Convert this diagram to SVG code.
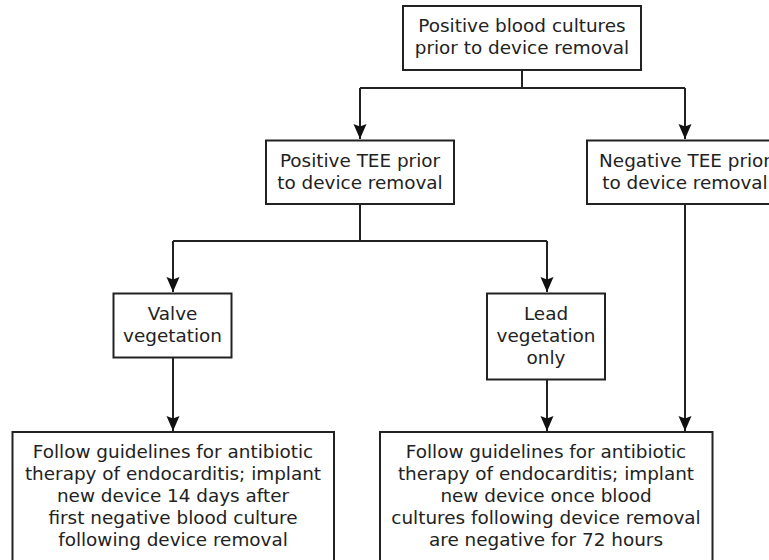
<svg xmlns="http://www.w3.org/2000/svg" width="769" height="560" viewBox="0 0 769 560">
<style>
.box{fill:#fff;stroke:#222;stroke-width:2}
.t{font-family:"DejaVu Sans",Verdana,sans-serif;font-size:18.4px;fill:#222;text-anchor:middle}
.c{fill:none;stroke:#222;stroke-width:2}
</style>
<defs>
<marker id="ah" markerUnits="userSpaceOnUse" markerWidth="18" markerHeight="16" viewBox="-16 -8 18 16" refX="0" refY="0" orient="auto">
<path d="M0,0 L-15,-6.5 L-12.5,0 L-15,6.5 Z" fill="#111"/>
</marker>
</defs>
<rect width="769" height="560" fill="#fff"/>
<g id="connectors">
<path class="c" d="M522,70 V88"/>
<path class="c" d="M360,88 H685"/>
<path class="c" d="M360,88 V139" marker-end="url(#ah)"/>
<path class="c" d="M685,88 V139" marker-end="url(#ah)"/>
<path class="c" d="M360,204 V241"/>
<path class="c" d="M173,241 H547"/>
<path class="c" d="M173,241 V292" marker-end="url(#ah)"/>
<path class="c" d="M547,241 V292" marker-end="url(#ah)"/>
<path class="c" d="M173,358 V431" marker-end="url(#ah)"/>
<path class="c" d="M547,379 V431" marker-end="url(#ah)"/>
<path class="c" d="M685,204 V431" marker-end="url(#ah)"/>
</g>
<g id="n1">
<rect class="box" x="403" y="6" width="238" height="64"/>
<text class="t" x="522" y="32">Positive blood cultures</text>
<text class="t" x="522" y="54">prior to device removal</text>
</g>
<g id="n2">
<rect class="box" x="266" y="140.5" width="188" height="63.5"/>
<text class="t" x="360" y="166.5">Positive TEE prior</text>
<text class="t" x="360" y="188.5">to device removal</text>
</g>
<g id="n3">
<rect class="box" x="587" y="140.5" width="196" height="63.5"/>
<text class="t" x="685" y="166.5">Negative TEE prior</text>
<text class="t" x="685" y="188.5">to device removal</text>
</g>
<g id="n4">
<rect class="box" x="113.5" y="293.5" width="118" height="64"/>
<text class="t" x="172.5" y="319.5">Valve</text>
<text class="t" x="172.5" y="341.5">vegetation</text>
</g>
<g id="n5">
<rect class="box" x="487" y="293.5" width="118" height="86"/>
<text class="t" x="546" y="319.5">Lead</text>
<text class="t" x="546" y="341.5">vegetation</text>
<text class="t" x="546" y="363.5">only</text>
</g>
<g id="n6">
<rect class="box" x="12.5" y="432" width="321.5" height="140"/>
<text class="t" x="173" y="458">Follow guidelines for antibiotic</text>
<text class="t" x="173" y="480">therapy of endocarditis; implant</text>
<text class="t" x="173" y="502">new device 14 days after</text>
<text class="t" x="173" y="524">first negative blood culture</text>
<text class="t" x="173" y="546">following device removal</text>
</g>
<g id="n7">
<rect class="box" x="380" y="432" width="332.5" height="140"/>
<text class="t" x="546" y="458">Follow guidelines for antibiotic</text>
<text class="t" x="546" y="480">therapy of endocarditis; implant</text>
<text class="t" x="546" y="502">new device once blood</text>
<text class="t" x="546" y="524">cultures following device removal</text>
<text class="t" x="546" y="546">are negative for 72 hours</text>
</g>
</svg>
